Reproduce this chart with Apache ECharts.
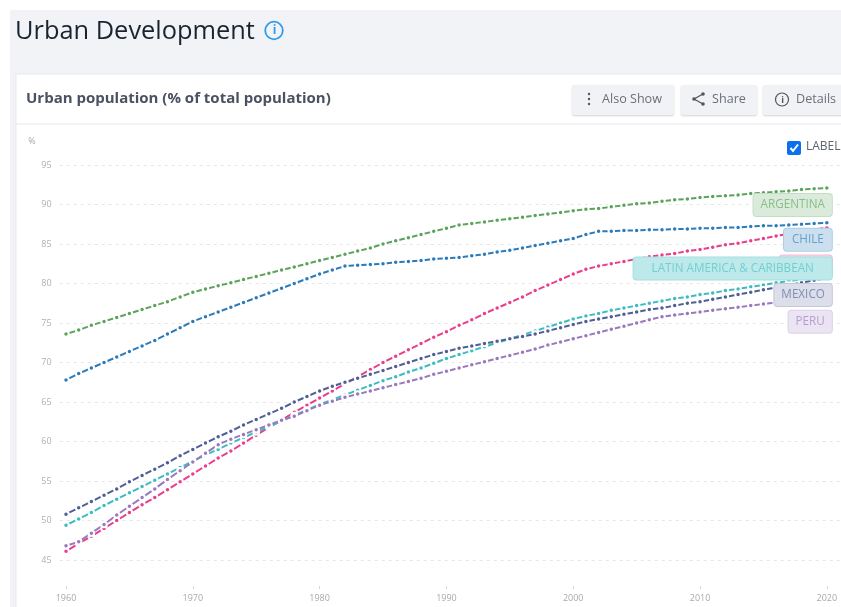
<!DOCTYPE html>
<html>
<head>
<meta charset="utf-8">
<style>
html,body{margin:0;padding:0;background:#fff;overflow:hidden;width:841px;height:607px}
#chart{width:860px;height:607px}
</style>
<script src="https://cdn.jsdelivr.net/npm/echarts@6/dist/echarts.min.js"></script>
</head>
<body>
<div id="chart"></div>
<script>
// Annual urban population share, 1960-2020
const years = [];
for (let y = 1960; y <= 2021; y++) years.push(String(y));

const argentina = [73.6,74.1,74.7,75.2,75.7,76.2,76.7,77.2,77.7,78.3,
  78.9,79.3,79.7,80.1,80.5,80.9,81.3,81.7,82.1,82.5,
  82.9,83.3,83.7,84.1,84.5,85.0,85.4,85.8,86.2,86.6,
  87.0,87.4,87.6,87.8,88.0,88.2,88.4,88.6,88.8,89.0,
  89.2,89.4,89.5,89.7,89.9,90.1,90.2,90.4,90.6,90.7,
  90.9,91.0,91.1,91.2,91.4,91.5,91.6,91.7,91.9,92.0,92.1];
const brazil = [46.1,47.1,48.0,49.0,50.0,51.0,52.0,52.9,53.9,54.9,
  55.9,56.9,57.9,58.8,59.8,60.8,61.8,62.7,63.7,64.6,
  65.5,66.4,67.3,68.2,69.1,70.0,70.8,71.6,72.4,73.2,
  73.9,74.7,75.4,76.2,76.9,77.6,78.3,79.1,79.8,80.5,
  81.2,81.8,82.2,82.5,82.8,83.1,83.4,83.6,83.8,84.1,
  84.3,84.6,84.9,85.1,85.4,85.7,86.0,86.3,86.5,86.8,87.1];
const chile = [67.8,68.6,69.3,70.0,70.7,71.4,72.1,72.8,73.6,74.4,
  75.2,75.8,76.4,77.0,77.6,78.2,78.8,79.4,80.0,80.6,
  81.2,81.7,82.2,82.3,82.4,82.5,82.7,82.8,82.9,83.1,
  83.2,83.3,83.5,83.7,84.0,84.2,84.5,84.8,85.1,85.4,
  85.7,86.2,86.6,86.6,86.7,86.7,86.8,86.8,86.9,86.9,
  87.0,87.0,87.1,87.1,87.2,87.3,87.3,87.4,87.5,87.6,87.7];
const latinAmerica = [49.4,50.2,51.0,51.9,52.7,53.5,54.3,55.1,55.9,56.7,
  57.5,58.3,59.0,59.8,60.5,61.2,61.9,62.6,63.3,64.0,
  64.7,65.3,65.9,66.5,67.1,67.7,68.2,68.8,69.3,69.9,
  70.5,71.0,71.5,72.0,72.5,73.0,73.5,74.0,74.5,75.0,
  75.5,75.9,76.2,76.6,76.9,77.2,77.5,77.8,78.1,78.3,
  78.6,78.8,79.1,79.3,79.6,79.8,80.1,80.3,80.5,80.8,81.0];
const mexico = [50.8,51.6,52.4,53.2,54.0,54.9,55.7,56.5,57.3,58.2,
  59.0,59.8,60.6,61.3,62.1,62.8,63.5,64.2,65.0,65.7,
  66.4,67.0,67.5,68.0,68.5,69.0,69.5,70.0,70.5,71.0,
  71.4,71.8,72.1,72.4,72.7,73.0,73.3,73.6,74.0,74.4,
  74.8,75.2,75.5,75.8,76.1,76.4,76.7,76.9,77.2,77.5,
  77.7,78.0,78.3,78.6,78.9,79.2,79.5,79.8,80.1,80.4,80.7];
const peru = [46.8,47.3,48.4,49.5,50.7,51.8,52.9,54.0,55.2,56.3,
  57.4,58.5,59.6,60.3,60.9,61.5,62.1,62.7,63.2,63.9,
  64.6,65.1,65.6,66.0,66.4,66.8,67.2,67.6,68.0,68.5,
  68.9,69.3,69.7,70.1,70.5,70.9,71.3,71.7,72.2,72.6,
  73.0,73.4,73.8,74.2,74.6,75.0,75.4,75.8,76.0,76.2,
  76.4,76.6,76.8,77.0,77.2,77.4,77.6,77.7,77.9,78.0,78.2];

const FONT = '"Open Sans", sans-serif';

// name, values, rgb colour, end label offset, side padding, tint strength
const lines = [
  ['ARGENTINA', argentina, [91,163,91], [5, 17], 7, 0.22],
  ['BRAZIL', brazil, [234,61,140], [5, 39], 7, 0.22],
  ['CHILE', chile, [43,123,186], [5, 17], 8, 0.24],
  ['LATIN AMERICA & CARIBBEAN', latinAmerica, [59,188,192], [5, -7], 18, 0.33],
  ['MEXICO', mexico, [79,95,149], [5, 17], 7, 0.2],
  ['PERU', peru, [154,120,189], [5, 24], 7, 0.2]
];

// Colour blended towards white, used for the label boxes
const tint = (rgb, a) => `rgb(${rgb.map(c => Math.round(255 - (255 - c) * a)).join(',')})`;

const series = lines.map(([name, data, rgb, offset, pad, strength]) => ({
  name, data, type: 'line', smooth: false,
  showSymbol: true, showAllSymbol: true, symbol: 'circle', symbolSize: 5.5,
  lineStyle: { color: `rgb(${rgb})`, width: 2 },
  itemStyle: { color: `rgb(${rgb})`, borderColor: '#fff', borderWidth: 2 },
  emphasis: { disabled: true },
  endLabel: {
    show: true, formatter: name, distance: 0, offset,
    align: 'right', verticalAlign: 'middle',
    fontFamily: FONT, fontSize: 11.7, lineHeight: 14,
    color: tint(rgb, 0.72),
    backgroundColor: tint(rgb, strength),
    borderColor: tint(rgb, strength + 0.14), borderWidth: 1, borderRadius: 3,
    padding: [4, pad, 4, pad]
  }
}));

// Page frame, card header, toolbar buttons and the label toggle
const btn = (x, w) => ({ type: 'rect', shape: { x, y: 85, width: w, height: 30, r: 2 },
  style: { fill: '#f1f2f5', shadowColor: 'rgba(0,0,0,0.18)', shadowBlur: 2, shadowOffsetY: 1 } });
const txt = (x, y, text, size, fill, weight) => ({ type: 'text', x, y,
  style: { text, fill, fontFamily: FONT, fontSize: size, fontWeight: weight || 400, textVerticalAlign: 'middle' } });
const stroke = (c, w) => ({ stroke: c, lineWidth: w, fill: 'none' });

const chrome = [
  { type: 'rect', shape: { x: 10, y: 10, width: 850, height: 597 }, style: { fill: '#f1f3f7' } },
  { type: 'rect', shape: { x: 16, y: 74, width: 850, height: 540 }, style: { fill: '#fff', stroke: '#e7e9ee', lineWidth: 1 } },
  { type: 'line', shape: { x1: 16, y1: 124, x2: 860, y2: 124 }, style: { stroke: '#e7e9ee', lineWidth: 1 } },
  txt(15, 32, 'Urban Development', 25.4, '#1a2430', 500),
  { type: 'circle', shape: { cx: 274, cy: 30.5, r: 8.8 }, style: stroke('#2f9bef', 1.8) },
  txt(272.8, 31, 'i', 12, '#2f9bef', 700),
  txt(26, 98.5, 'Urban population (% of total population)', 15, '#4a5160', 700),
  btn(572, 102), btn(681, 76), btn(763, 80),
  { type: 'circle', shape: { cx: 589, cy: 94, r: 1.2 }, style: { fill: '#555' } },
  { type: 'circle', shape: { cx: 589, cy: 99, r: 1.2 }, style: { fill: '#555' } },
  { type: 'circle', shape: { cx: 589, cy: 104, r: 1.2 }, style: { fill: '#555' } },
  txt(602, 99.5, 'Also Show', 12.6, '#6a6f78'),
  { type: 'polyline', shape: { points: [[703, 94], [694, 99], [703, 104]] }, style: stroke('#555', 1.2) },
  { type: 'circle', shape: { cx: 703, cy: 94, r: 1.8 }, style: { fill: '#555' } },
  { type: 'circle', shape: { cx: 694, cy: 99, r: 1.8 }, style: { fill: '#555' } },
  { type: 'circle', shape: { cx: 703, cy: 104, r: 1.8 }, style: { fill: '#555' } },
  txt(712, 99.5, 'Share', 12.6, '#6a6f78'),
  { type: 'circle', shape: { cx: 782, cy: 99.5, r: 6.5 }, style: stroke('#555', 1.2) },
  txt(781.2, 100, 'i', 9, '#555', 700),
  txt(796, 99.5, 'Details', 12.6, '#6a6f78'),
  { type: 'rect', shape: { x: 787, y: 141, width: 14, height: 14, r: 2 }, style: { fill: '#0b6ff0' } },
  { type: 'polyline', shape: { points: [[790.5, 148], [793, 151], [798, 144.5]] }, style: stroke('#fff', 2) },
  txt(806, 147, 'LABEL', 12, '#5d626b')
];

const chart = echarts.init(document.getElementById('chart'), null, { renderer: 'canvas' });
chart.setOption({
  animation: false,
  backgroundColor: '#fff',
  textStyle: { fontFamily: FONT },
  graphic: { elements: chrome },
  grid: { left: 59.66, top: 165, width: 786.2, height: 395 },
  xAxis: {
    type: 'category', data: years, boundaryGap: true, offset: 26,
    axisLine: { show: false },
    axisTick: { show: true, alignWithLabel: true, interval: 9, length: 3, lineStyle: { color: '#d5d5d5' } },
    axisLabel: { interval: 9, color: '#a9a9a9', fontSize: 9, margin: 8, fontFamily: FONT },
    splitLine: { show: false }
  },
  yAxis: {
    type: 'value', min: 45, max: 95, interval: 5,
    name: '%', nameGap: 19,
    nameTextStyle: { color: '#a9a9a9', fontSize: 9, align: 'right', padding: [0, 24, 0, 0], fontFamily: FONT },
    axisLine: { show: false }, axisTick: { show: false },
    axisLabel: { color: '#b0b0b0', fontSize: 9, margin: 8, fontFamily: FONT },
    splitLine: { show: true, lineStyle: { color: '#e6e6e6', width: 1, type: [3, 4] } }
  },
  series
});
</script>
</body>
</html>
